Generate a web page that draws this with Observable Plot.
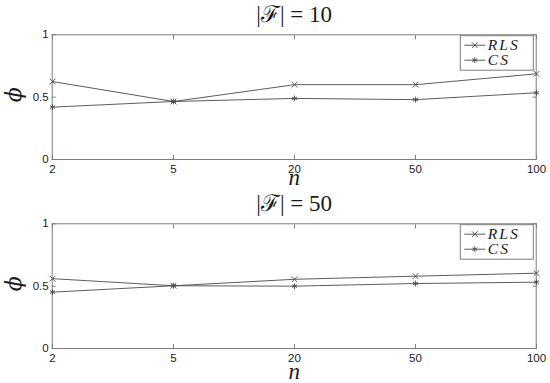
<!DOCTYPE html>
<html>
<head>
<meta charset="utf-8">
<script src="https://cdn.jsdelivr.net/npm/d3@7"></script>
<script src="https://cdn.jsdelivr.net/npm/@observablehq/plot@0.6"></script>
<style>
  html, body { margin: 0; padding: 0; background: #fff; }
  #chart { width: 550px; height: 383px; overflow: hidden; }
  #chart svg { display: block; }
</style>
</head>
<body>
<div id="chart"></div>
<script>
// ---- data ----
const nLabels = ["2", "5", "20", "50", "100"];
const seriesNames = ["RLS", "CS"];
const seriesSymbols = ["times", "asterisk"];
const yTicks = [0, 0.5, 1];
const yTickLabels = ["0", "0.5", "1"];

const titleF10 = "|ℱ| = 10";
const rlsF10 = [0.625, 0.465, 0.600, 0.600, 0.687];
const csF10  = [0.420, 0.465, 0.490, 0.480, 0.535];

const titleF50 = "|ℱ| = 50";
const rlsF50 = [0.560, 0.503, 0.555, 0.580, 0.604];
const csF50  = [0.452, 0.503, 0.500, 0.521, 0.532];

const xLabel = "n";
const yLabel = "ϕ";

const lineColor = "#4a4a4a";
const frameColor = "#7c7c7c";
const textColor = "#1a1a1a";
const serif = "'Liberation Serif', 'DejaVu Serif', serif";

function panel({title, rls, cs, height, marginTop, marginBottom, nDy}) {
  const width = 550, marginLeft = 51.7, marginRight = 14.3;
  const data = nLabels.flatMap((n, i) => [
    {n, phi: rls[i], s: seriesNames[0]},
    {n, phi: cs[i], s: seriesNames[1]}
  ]);
  const svg = Plot.plot({
    width, height, marginLeft, marginRight, marginTop, marginBottom,
    style: {fontFamily: "'Liberation Sans', Arial, sans-serif", fontSize: "11.5px", color: textColor, background: "#fff", overflow: "visible"},
    x: {type: "point", domain: nLabels, padding: 0, label: null},
    y: {domain: [0, 1], label: null},
    symbol: {domain: seriesNames, range: seriesSymbols},
    marks: [
      Plot.frame({stroke: frameColor}),
      Plot.axisX({anchor: "bottom", tickSize: -4, tickPadding: 9.5, label: null, stroke: frameColor, fill: textColor}),
      Plot.axisX({anchor: "top", tickSize: -4, tickFormat: () => "", label: null, stroke: frameColor}),
      Plot.axisY({anchor: "left", ticks: yTicks, tickFormat: (d, i) => yTickLabels[i], tickSize: -4, tickPadding: 7.5, label: null, stroke: frameColor, fill: textColor}),
      Plot.axisY({anchor: "right", ticks: yTicks, tickSize: -4, tickFormat: () => "", label: null, stroke: frameColor}),
      Plot.line(data, {x: "n", y: "phi", z: "s", stroke: lineColor, strokeWidth: 0.9}),
      Plot.dot(data, {x: "n", y: "phi", symbol: "s", r: 2.7, stroke: lineColor, fill: "none", strokeWidth: 0.9}),
      Plot.text([title], {text: d => d, frameAnchor: "top", dy: -13, lineAnchor: "bottom", fontSize: 23, fontFamily: serif, fill: textColor}),
      Plot.text([xLabel], {text: d => d, frameAnchor: "bottom", dy: nDy, lineAnchor: "bottom", fontSize: 23, fontStyle: "italic", fontFamily: serif, fill: textColor})
    ]
  });

  const sel = d3.select(svg);
  // rotated y label (phi)
  const midY = marginTop + (height - marginTop - marginBottom) / 2 - 2;
  sel.append("text")
    .attr("transform", `translate(14,${midY}) rotate(-90)`)
    .attr("text-anchor", "middle").attr("dy", "0.32em")
    .attr("font-family", "'DejaVu Serif', serif").attr("font-style", "italic")
    .attr("font-size", 22).attr("fill", textColor).text(yLabel);

  // legend box in the top-right corner of the frame
  const right = width - marginRight;
  const boxW = 73, boxH = 34.5;
  const bx = right - 2.4 - boxW, by = marginTop + 1.4;
  const g = sel.append("g").attr("class", "legend");
  g.append("rect").attr("x", bx).attr("y", by).attr("width", boxW).attr("height", boxH)
    .attr("fill", "#fff").attr("stroke", frameColor).attr("stroke-width", 1);
  const symMap = {times: d3.symbolTimes, asterisk: d3.symbolAsterisk};
  seriesNames.forEach((name, i) => {
    const cy = by + 9.5 + i * 15;
    g.append("line").attr("x1", bx + 4).attr("x2", bx + 25).attr("y1", cy).attr("y2", cy)
      .attr("stroke", lineColor).attr("stroke-width", 0.9);
    g.append("path").attr("transform", `translate(${bx + 14.5},${cy})`)
      .attr("d", d3.symbol(symMap[seriesSymbols[i]], 2.7 * 2.7 * Math.PI)())
      .attr("fill", "none").attr("stroke", lineColor).attr("stroke-width", 0.9);
    g.append("text").attr("x", bx + 27.5).attr("y", cy + 5)
      .attr("text-anchor", "start")
      .attr("font-family", serif)
      .attr("font-style", "italic").attr("font-size", 15.5).attr("letter-spacing", 2)
      .attr("fill", textColor).text(name);
  });
  return svg;
}

const chart = document.getElementById("chart");
chart.appendChild(panel({title: titleF10, rls: rlsF10, cs: csF10, height: 190, marginTop: 34.3, marginBottom: 31, nDy: 25}));
chart.appendChild(panel({title: titleF50, rls: rlsF50, cs: csF50, height: 193, marginTop: 33.3, marginBottom: 35, nDy: 30}));
</script>
</body>
</html>
